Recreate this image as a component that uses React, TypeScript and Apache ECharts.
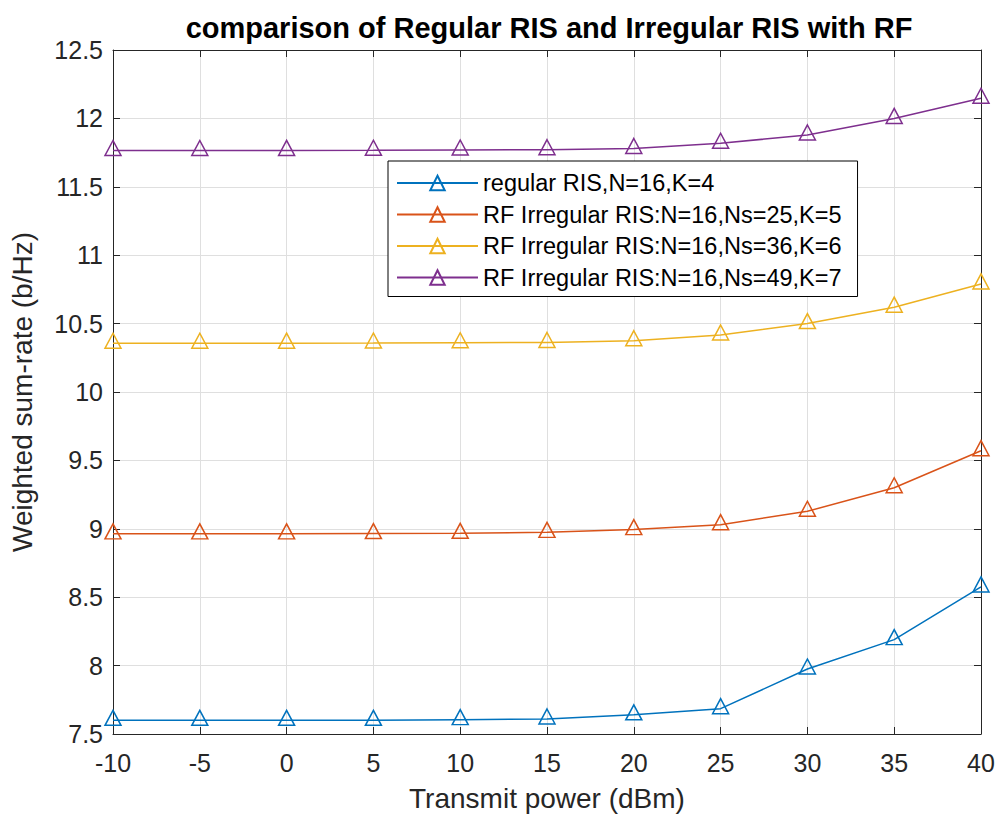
import React, { useEffect, useRef } from "react";
import * as echarts from "echarts";

const titleText = "comparison of Regular RIS and Irregular RIS with RF";
const xAxisName = "Transmit power (dBm)";
const yAxisName = "Weighted sum-rate (b/Hz)";
const powers = [-10, -5, 0, 5, 10, 15, 20, 25, 30, 35, 40];
const seriesNames = [
  "regular RIS,N=16,K=4",
  "RF Irregular RIS:N=16,Ns=25,K=5",
  "RF Irregular RIS:N=16,Ns=36,K=6",
  "RF Irregular RIS:N=16,Ns=49,K=7",
];
const regularK4 = [7.6, 7.6, 7.6, 7.6, 7.605, 7.61, 7.64, 7.685, 7.975, 8.19, 8.575];
const irregularK5 = [8.963, 8.963, 8.963, 8.965, 8.967, 8.974, 8.994, 9.03, 9.128, 9.3, 9.571];
const irregularK6 = [10.356, 10.356, 10.357, 10.358, 10.36, 10.362, 10.375, 10.417, 10.5, 10.62, 10.79];
const irregularK7 = [11.765, 11.765, 11.766, 11.767, 11.769, 11.771, 11.78, 11.818, 11.879, 12.0, 12.147];
const seriesValues = [regularK4, irregularK5, irregularK6, irregularK7];
const colors = ["#0072BD", "#D95319", "#EDB120", "#7E2F8E"];

const FONT = "Liberation Sans, Arial, Helvetica, sans-serif";
const AX = "#262626";

export default function App() {
  const ref = useRef<HTMLDivElement>(null);
  useEffect(() => {
    if (!ref.current) return;
    const chart = echarts.init(ref.current, undefined, { renderer: "svg" });
    const xCommon = {
      type: "value" as const,
      min: -10,
      max: 40,
      interval: 5,
      splitLine: { show: false },
    };
    const yCommon = {
      type: "value" as const,
      min: 7.5,
      max: 12.5,
      interval: 0.5,
      splitLine: { show: false },
    };
    const axLine = { show: true, onZero: false, lineStyle: { color: AX, width: 1 } };
    const axTick = { show: true, inside: true, length: 7, lineStyle: { color: AX } };
    chart.setOption({
      animation: false,
      backgroundColor: "#ffffff",
      textStyle: { fontFamily: FONT },
      title: {
        text: titleText,
        left: 544,
        textAlign: "center",
        top: 8,
        textStyle: { fontFamily: FONT, fontSize: 29, fontWeight: "bold", color: "#000000" },
      },
      legend: {
        orient: "vertical",
        left: 388,
        top: 161,
        padding: [10, 16, 7, 8],
        itemWidth: 81,
        itemHeight: 18,
        itemGap: 7.5,
        backgroundColor: "#ffffff",
        borderColor: "#000000",
        borderWidth: 1,
        borderRadius: 0,
        textStyle: { fontFamily: FONT, fontSize: 23.5, color: "#000000", lineHeight: 24 },
        data: seriesNames,
      },
      grid: { left: 112, right: 18, top: 50, bottom: 87, containLabel: false },
      xAxis: [
        {
          ...xCommon,
          position: "bottom",
          name: xAxisName,
          nameLocation: "middle",
          nameGap: 50,
          nameTextStyle: { fontFamily: FONT, fontSize: 28, color: AX },
          axisLine: axLine,
          axisTick: axTick,
          axisLabel: { fontFamily: FONT, fontSize: 25, color: AX, margin: 16 },
          splitLine: { show: true, lineStyle: { color: "#dfdfdf", width: 1 } },
        },
        {
          ...xCommon,
          position: "top",
          axisLine: axLine,
          axisTick: axTick,
          axisLabel: { show: false },
        },
      ],
      yAxis: [
        {
          ...yCommon,
          position: "left",
          name: yAxisName,
          nameLocation: "middle",
          nameGap: 77,
          nameRotate: 90,
          nameTextStyle: { fontFamily: FONT, fontSize: 28, color: AX },
          axisLine: axLine,
          axisTick: axTick,
          axisLabel: { fontFamily: FONT, fontSize: 25, color: AX, margin: 10 },
          splitLine: { show: true, lineStyle: { color: "#dfdfdf", width: 1 } },
        },
        {
          ...yCommon,
          position: "right",
          axisLine: axLine,
          axisTick: axTick,
          axisLabel: { show: false },
        },
      ],
      series: seriesNames.map((name, i) => ({
        name,
        type: "line",
        xAxisIndex: 0,
        yAxisIndex: 0,
        data: powers.map((p, j) => [p, seriesValues[i][j]]),
        symbol: "triangle",
        symbolSize: [16, 15],
        symbolOffset: [0, -2.5],
        showSymbol: true,
        lineStyle: { color: colors[i], width: 1.5 },
        itemStyle: { color: "rgba(255,255,255,0)", borderColor: colors[i], borderWidth: 1.5 },
        emphasis: { disabled: true },
        z: 2 + i,
      })),
    });
    return () => chart.dispose();
  }, []);
  return (
    <div
      ref={ref}
      style={{ position: "absolute", left: 0, top: 0, width: 999, height: 821 }}
    />
  );
}
